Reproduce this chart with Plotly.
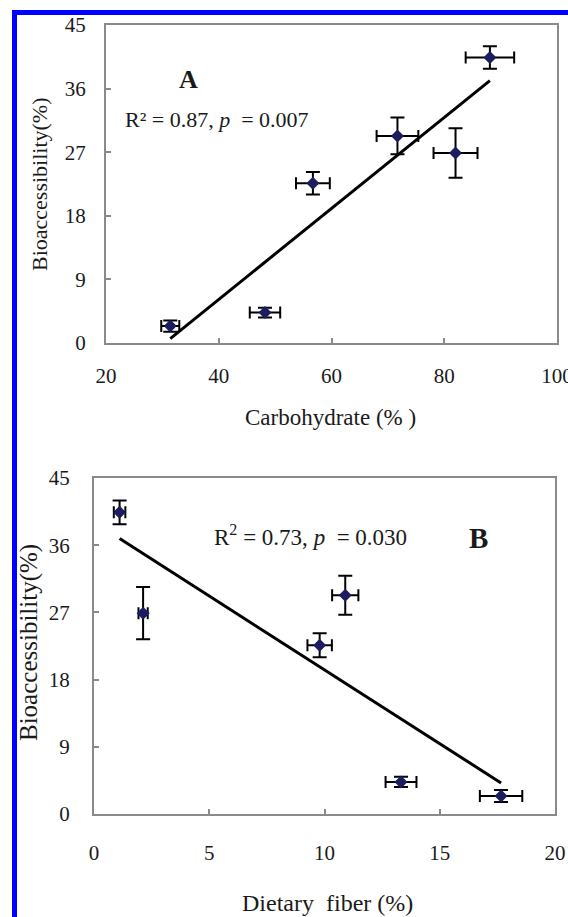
import numpy as np
import plotly.graph_objects as go

W, H = 568, 917

# ---- data ----
bioaccessibility = [2.4, 4.3, 22.6, 29.3, 26.9, 40.4]
bioaccessibility_err = [0.8, 0.7, 1.6, 2.6, 3.5, 1.6]
carbohydrate = [31.4, 48.2, 56.7, 71.7, 82.0, 88.1]
carbohydrate_err = [1.6, 2.7, 3.0, 3.7, 3.9, 4.3]
dietary_fiber = [17.66, 13.32, 9.79, 10.9, 2.13, 1.11]
dietary_fiber_err = [0.92, 0.67, 0.53, 0.57, 0.2, 0.25]

y_ticks = [0, 9, 18, 27, 36, 45]
xA_ticks = [20, 40, 60, 80, 100]
xB_ticks = [0, 5, 10, 15, 20]

FONT = "Liberation Serif, Times New Roman, Times, serif"
MARK = "#1c1c5e"
AXC = "#8a8a8a"
TXT = "#1a1a1a"


def px(x):
    return x / W


def py(y):
    return 1 - y / H


def fit_line(x, y):
    x = np.asarray(x, float)
    y = np.asarray(y, float)
    k, b = np.polyfit(x, y, 1)
    xs = np.array([x.min(), x.max()])
    return xs, k * xs + b


fig = go.Figure()

# Panel A
fig.add_trace(go.Scatter(
    x=carbohydrate, y=bioaccessibility, mode="markers",
    marker=dict(symbol="diamond", size=10, color=MARK),
    error_x=dict(type="data", array=carbohydrate_err, color="black", thickness=2, width=6),
    error_y=dict(type="data", array=bioaccessibility_err, color="black", thickness=2, width=7),
    xaxis="x", yaxis="y", showlegend=False))
lx, ly = fit_line(carbohydrate, bioaccessibility)
fig.add_trace(go.Scatter(x=lx, y=ly, mode="lines", line=dict(color="black", width=3),
                         xaxis="x", yaxis="y", showlegend=False))

# Panel B
fig.add_trace(go.Scatter(
    x=dietary_fiber, y=bioaccessibility, mode="markers",
    marker=dict(symbol="diamond", size=10, color=MARK),
    error_x=dict(type="data", array=dietary_fiber_err, color="black", thickness=2, width=6),
    error_y=dict(type="data", array=bioaccessibility_err, color="black", thickness=2, width=7),
    xaxis="x2", yaxis="y2", showlegend=False))
lx2, ly2 = fit_line(dietary_fiber, bioaccessibility)
fig.add_trace(go.Scatter(x=lx2, y=ly2, mode="lines", line=dict(color="black", width=3),
                         xaxis="x2", yaxis="y2", showlegend=False))

axis_common = dict(showline=True, linecolor=AXC, linewidth=2, mirror=True,
                   ticks="inside", ticklen=5, tickcolor=AXC, tickwidth=1.5,
                   showgrid=False, zeroline=False, automargin=False,
                   ticklabeloverflow="allow",
                   tickfont=dict(family=FONT, size=21, color=TXT))

fig.update_layout(
    width=W, height=H, autosize=False,
    font=dict(family=FONT, color=TXT),
    margin=dict(l=0, r=0, t=0, b=0, pad=0, autoexpand=False),
    paper_bgcolor="white", plot_bgcolor="white",
    xaxis=dict(domain=[px(106), px(557)], range=[20, 100], tickvals=xA_ticks,
               anchor="y", ticklabelstandoff=13, **axis_common),
    yaxis=dict(domain=[py(343), py(25)], range=[0, 45], tickvals=y_ticks,
               anchor="x", ticklabelstandoff=14, **axis_common),
    xaxis2=dict(domain=[px(94), px(555)], range=[0, 20], tickvals=xB_ticks,
                anchor="y2", ticklabelstandoff=19, **axis_common),
    yaxis2=dict(domain=[py(814), py(478)], range=[0, 45], tickvals=y_ticks,
                anchor="x2", ticklabelstandoff=18, **axis_common),
)

ann = []
# axis titles
ann.append(dict(text="Carbohydrate (% )", x=px(331), y=py(417), xref="paper", yref="paper",
                showarrow=False, xanchor="center", yanchor="middle",
                font=dict(family=FONT, size=23, color=TXT)))
ann.append(dict(text="Bioaccessibility(%)", x=px(40), y=py(184), xref="paper", yref="paper",
                showarrow=False, xanchor="center", yanchor="middle", textangle=-90,
                font=dict(family=FONT, size=22, color=TXT)))
ann.append(dict(text="Dietary\u00a0 fiber (%)", x=px(327), y=py(903), xref="paper", yref="paper",
                showarrow=False, xanchor="center", yanchor="middle",
                font=dict(family=FONT, size=24, color=TXT)))
ann.append(dict(text="Bioaccessibility(%)", x=px(29), y=py(643), xref="paper", yref="paper",
                showarrow=False, xanchor="center", yanchor="middle", textangle=-90,
                font=dict(family=FONT, size=25, color=TXT)))
# panel labels and stats
ann.append(dict(text="<b>A</b>", x=px(188), y=py(80), xref="paper", yref="paper",
                showarrow=False, xanchor="center", yanchor="middle",
                font=dict(family=FONT, size=26, color=TXT)))
ann.append(dict(text="R\u00b2 = 0.87, <i>p</i>\u00a0 = 0.007", x=px(123), y=py(119),
                xref="paper", yref="paper", showarrow=False, xanchor="left", yanchor="middle",
                font=dict(family=FONT, size=22, color=TXT)))
ann.append(dict(text="R<sup>2</sup> = 0.73, <i>p</i>\u00a0 = 0.030", x=px(212), y=py(535),
                xref="paper", yref="paper", showarrow=False, xanchor="left", yanchor="middle",
                font=dict(family=FONT, size=23, color=TXT)))
ann.append(dict(text="<b>B</b>", x=px(478), y=py(538), xref="paper", yref="paper",
                showarrow=False, xanchor="center", yanchor="middle",
                font=dict(family=FONT, size=29, color=TXT)))
fig.update_layout(annotations=ann)

# blue frame of the original figure
fig.update_layout(shapes=[
    dict(type="rect", xref="paper", yref="paper", x0=px(12), x1=px(17), y0=0, y1=py(10),
         fillcolor="#0000ff", line=dict(width=0), layer="above"),
    dict(type="rect", xref="paper", yref="paper", x0=px(12), x1=1, y0=py(15), y1=py(10),
         fillcolor="#0000ff", line=dict(width=0), layer="above"),
])

fig.write_html("out.html", config={"displayModeBar": False},
               post_script="document.body.style.margin='0';document.body.style.overflow='hidden';")
